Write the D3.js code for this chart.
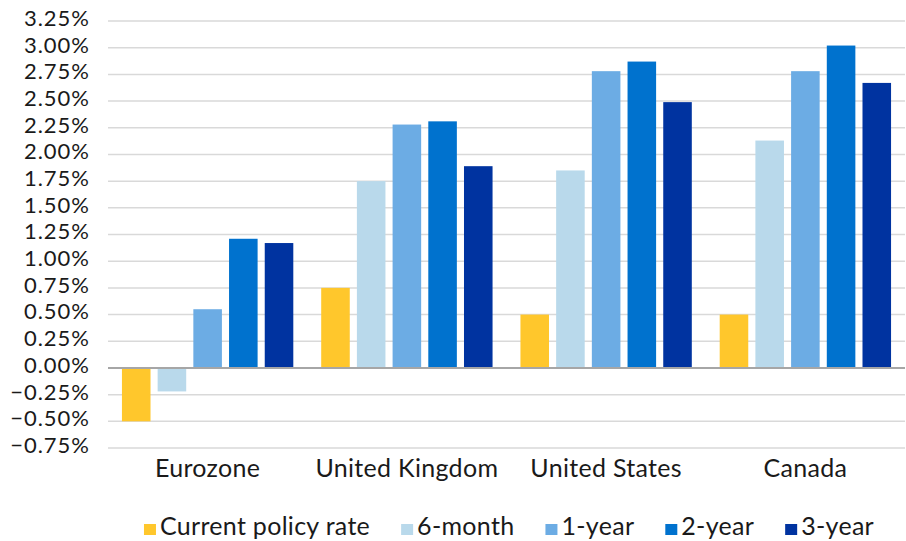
<!DOCTYPE html>
<html>
<head>
<meta charset="utf-8">
<script src="https://cdn.jsdelivr.net/npm/d3@7"></script>
<style>
  body { margin: 0; background: #fff; }
  svg text { font-family: Lato, "Open Sans", sans-serif; fill: #1a1a1a; }
</style>
</head>
<body>
<div id="chart"></div>
<script>
// data
const regions = ['Eurozone', 'United Kingdom', 'United States', 'Canada'];
const series_names = ['Current policy rate', '6-month', '1-year', '2-year', '3-year'];
const series_colors = ['#FFC72C', '#B9D9EB', '#6CACE4', '#0072CE', '#0033A0'];
const policy_rate = [-0.50, 0.75, 0.50, 0.50];
const six_month = [-0.22, 1.75, 1.85, 2.13];
const one_year = [0.55, 2.28, 2.78, 2.78];
const two_year = [1.21, 2.31, 2.87, 3.02];
const three_year = [1.17, 1.89, 2.49, 2.67];
const y_ticks = [-0.75, -0.5, -0.25, 0, 0.25, 0.5, 0.75, 1, 1.25, 1.5, 1.75, 2, 2.25, 2.5, 2.75, 3, 3.25];

const all_series = [policy_rate, six_month, one_year, two_year, three_year];

const width = 906, height = 541;
const margin = {top: 21, right: 1, bottom: 93, left: 108};

let svg = d3.select('#chart').append('svg')
    .attr('width', width)
    .attr('height', height);

let y = d3.scaleLinear()
    .domain([-0.75, 3.25])
    .range([height - margin.bottom, margin.top]);

let x0 = d3.scaleBand()
    .domain(regions)
    .range([margin.left, width - margin.right])
    .paddingInner(0.14)
    .paddingOuter(0.07);

let x1 = d3.scaleBand()
    .domain(series_names)
    .range([0, x0.bandwidth()])
    .paddingInner(0.2);

// gridlines
svg.append('g')
    .selectAll('line')
    .data(y_ticks.filter(d => d !== 0))
    .enter().append('line')
    .attr('x1', margin.left)
    .attr('x2', width - margin.right)
    .attr('y1', d => y(d))
    .attr('y2', d => y(d))
    .style('stroke', '#d9d9d9')
    .style('stroke-width', 1.5);

// y axis labels
let y_axis = svg.append('g')
    .attr('transform', 'translate(' + (margin.left - 18) + ',0)')
    .call(d3.axisLeft(y).tickValues(y_ticks).tickSize(0).tickPadding(0)
        .tickFormat(d => d3.format('.2f')(d) + '%'));
y_axis.select('.domain').remove();
y_axis.selectAll('text')
    .style('font-size', '22px')
    .style('letter-spacing', '1px')
    .attr('dy', '0.2em');

// bars
let groups = svg.append('g')
    .selectAll('g')
    .data(regions)
    .enter().append('g')
    .attr('transform', d => 'translate(' + x0(d) + ',0)');

groups.selectAll('rect')
    .data((region, i) => series_names.map((s, j) => ({series: s, color: series_colors[j], value: all_series[j][i]})))
    .enter().append('rect')
    .attr('x', d => x1(d.series))
    .attr('width', x1.bandwidth())
    .attr('y', d => y(Math.max(0, d.value)))
    .attr('height', d => Math.abs(y(d.value) - y(0)))
    .style('fill', d => d.color);

// zero line
svg.append('line')
    .attr('x1', margin.left)
    .attr('x2', width - margin.right)
    .attr('y1', y(0))
    .attr('y2', y(0))
    .style('stroke', '#a6a6a6')
    .style('stroke-width', 2);

// category labels
svg.append('g')
    .selectAll('text')
    .data(regions)
    .enter().append('text')
    .attr('x', d => x0(d) + x0.bandwidth() / 2)
    .attr('y', 477)
    .style('text-anchor', 'middle')
    .style('font-size', '25px')
    .style('letter-spacing', '0.3px')
    .text(d => d);

// legend
let legend = svg.append('g');
let legend_items = legend.selectAll('g')
    .data(series_names)
    .enter().append('g');

legend_items.append('rect')
    .attr('width', 12)
    .attr('height', 11)
    .attr('y', 524)
    .style('fill', (d, i) => series_colors[i]);

legend_items.append('text')
    .attr('x', 16)
    .attr('y', 535)
    .style('font-size', '25px')
    .style('letter-spacing', '0.3px')
    .text(d => d);

let cursor = 0;
legend_items.each(function () {
    let g = d3.select(this);
    g.attr('transform', 'translate(' + cursor + ',0)');
    cursor += 16 + g.select('text').node().getComputedTextLength() + 31;
});
let legend_width = cursor - 31;
legend.attr('transform', 'translate(' + (509 - legend_width / 2) + ',0)');
</script>
</body>
</html>
